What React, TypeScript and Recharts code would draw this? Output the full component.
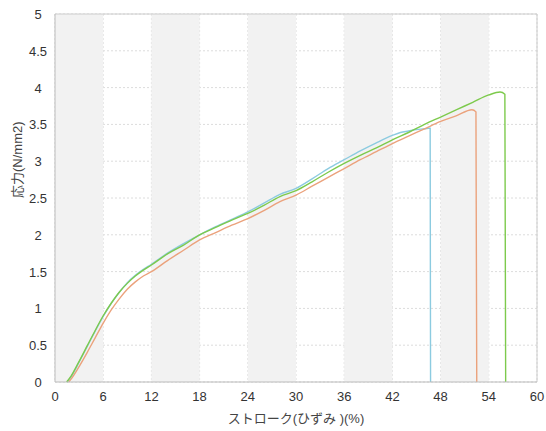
import { LineChart, Line, XAxis, YAxis, CartesianGrid, ReferenceArea, ReferenceLine } from 'recharts';

// stroke (%) / stress (N/mm2) per specimen
const blueX = [1.5, 2, 3, 4, 5, 6, 7, 8, 9, 10, 11, 12, 14, 16, 18, 20, 22, 24, 26, 28, 30, 32, 34, 36, 38, 40, 42, 43, 44, 45, 46, 46.7, 46.75];
const blueY = [0, 0.07, 0.27, 0.48, 0.69, 0.89, 1.07, 1.22, 1.35, 1.45, 1.53, 1.6, 1.75, 1.88, 2.0, 2.11, 2.21, 2.31, 2.43, 2.55, 2.63, 2.76, 2.9, 3.02, 3.14, 3.25, 3.35, 3.39, 3.41, 3.43, 3.44, 3.45, 0];

const orangeX = [1.7, 2, 3, 4, 5, 6, 7, 8, 9, 10, 11, 12, 14, 16, 18, 20, 22, 24, 26, 28, 30, 32, 34, 36, 38, 40, 42, 44, 46, 48, 50, 51.9, 52.4, 52.5];
const orangeY = [0, 0.04, 0.21, 0.4, 0.6, 0.8, 0.98, 1.13, 1.26, 1.36, 1.44, 1.5, 1.65, 1.79, 1.93, 2.03, 2.13, 2.22, 2.33, 2.45, 2.54, 2.66, 2.78, 2.9, 3.02, 3.13, 3.24, 3.34, 3.44, 3.54, 3.62, 3.7, 3.67, 0];

const greenX = [1.45, 2, 3, 4, 5, 6, 7, 8, 9, 10, 11, 12, 14, 16, 18, 20, 22, 24, 26, 28, 30, 32, 34, 36, 38, 40, 42, 44, 46, 48, 50, 52, 54, 55.4, 56.0, 56.1];
const greenY = [0, 0.08, 0.28, 0.49, 0.7, 0.9, 1.07, 1.22, 1.34, 1.44, 1.52, 1.59, 1.74, 1.86, 2.0, 2.1, 2.2, 2.29, 2.4, 2.52, 2.6, 2.72, 2.85, 2.97, 3.08, 3.18, 3.29, 3.39, 3.5, 3.6, 3.7, 3.8, 3.9, 3.94, 3.91, 0];

const xTicks = [0, 6, 12, 18, 24, 30, 36, 42, 48, 54, 60];
const yTicks = [0, 0.5, 1, 1.5, 2, 2.5, 3, 3.5, 4, 4.5, 5];
const bands = [[0, 6], [12, 18], [24, 30], [36, 42], [48, 54]];

const toPoints = (xs: number[], ys: number[]) => xs.map((x, i) => ({ x, y: ys[i] }));

const FONT = 'Arial, "Liberation Sans", "Noto Sans CJK JP", sans-serif';

const XTick = (props: any) => {
  const { x, y, payload } = props;
  return (
    <text x={x} y={y + 11} textAnchor="middle" fontSize={13} fill="#333" fontFamily={FONT}>
      {payload.value}
    </text>
  );
};

const YTick = (props: any) => {
  const { y, payload } = props;
  return (
    <text x={38} y={y + 5} textAnchor="middle" fontSize={13} fill="#333" fontFamily={FONT}>
      {payload.value}
    </text>
  );
};

export default function App() {
  return (
    <div style={{ position: 'absolute', left: 0, top: 0, width: 546, height: 431, background: '#fff' }}>
      <LineChart width={546} height={431} margin={{ top: 14, right: 9, left: 0, bottom: 0 }}>
        {bands.map(([a, b]) => (
          <ReferenceArea key={a} x1={a} x2={b} y1={0} y2={5} fill="#f2f2f2" fillOpacity={1} stroke="none" />
        ))}
        <CartesianGrid strokeDasharray="2 2" stroke="#dcdcdc" />
        <XAxis
          type="number"
          dataKey="x"
          domain={[0, 60]}
          ticks={xTicks}
          allowDataOverflow
          tick={<XTick />}
          tickLine={false}
          axisLine={{ stroke: '#bbb' }}
          height={49}
          label={{ value: 'ストローク(ひずみ )(%)', position: 'insideBottom', offset: 8, fontSize: 13, fill: '#444', fontFamily: FONT }}
        />
        <YAxis
          type="number"
          domain={[0, 5]}
          ticks={yTicks}
          tick={<YTick />}
          tickLine={false}
          axisLine={{ stroke: '#bbb' }}
          width={55}
          label={{ value: '応力(N/mm2)', angle: -90, position: 'insideLeft', offset: 17, fontSize: 13, fill: '#444', fontFamily: FONT }}
        />
        <ReferenceLine y={5} stroke="#ccc" />
        <ReferenceLine x={60} stroke="#ccc" />
        <Line type="monotone" data={toPoints(blueX, blueY)} dataKey="y" stroke="#8ccbe0" strokeWidth={1.4} dot={false} isAnimationActive={false} />
        <Line type="monotone" data={toPoints(orangeX, orangeY)} dataKey="y" stroke="#eba27c" strokeWidth={1.4} dot={false} isAnimationActive={false} />
        <Line type="monotone" data={toPoints(greenX, greenY)} dataKey="y" stroke="#7dca4c" strokeWidth={1.4} dot={false} isAnimationActive={false} />
      </LineChart>
    </div>
  );
}
